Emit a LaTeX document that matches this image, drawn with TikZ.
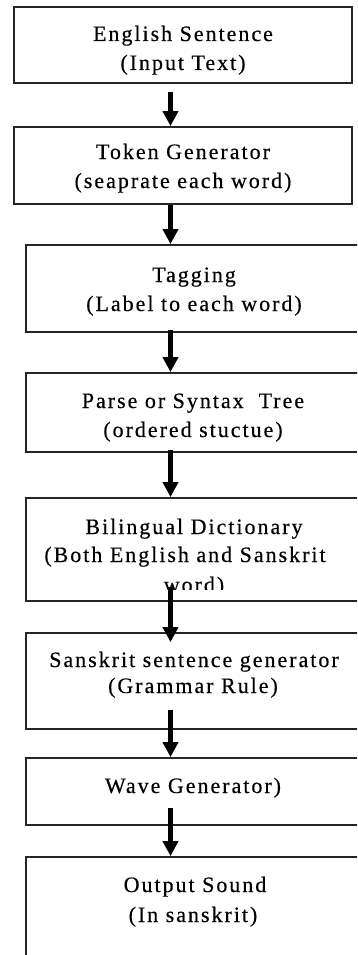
\documentclass[tikz,border=0pt]{standalone}
\usepackage{fontspec}
\setmainfont{Liberation Serif}[LetterSpace=9,FakeBold=0.4]
\usetikzlibrary{arrows.meta,calc}
\begin{document}
\begin{tikzpicture}[x=1pt,y=-1pt,
  box/.style={draw=black!85,line width=1.8pt,inner sep=0pt,minimum width=#1},
  box/.default=338pt,
  txt/.style={anchor=base,inner sep=0pt,font=\fontsize{22}{28}\selectfont},
  arr/.style={line width=4.5pt,-{Triangle[width=15pt,length=15pt]}}]
\useasboundingbox (0,0) rectangle (357,955);
\clip (0,0) rectangle (357,955);
% boxes
\node[box,minimum height=76pt] (b1) at (183,45) {};
\node[box,minimum height=77pt] (b2) at (183,165.5) {};
\node[box=336pt,minimum height=87pt] (b3) at (194,288.5) {};
\node[box=336pt,minimum height=79pt] (b4) at (194,412.5) {};
\node[box=336pt,minimum height=103pt] (b5) at (194,549.5) {};
\node[box=336pt,minimum height=96pt] (b6) at (194,681) {};
\node[box=336pt,minimum height=67pt] (b7) at (194,791.5) {};
\node[box=336pt,minimum height=128pt] (b8) at (194,921) {};
% texts
\node[txt] (t1a) at (183,41) {English Sentence};
\node[txt] (t1b) at (183,70) {(Input Text)};
\node[txt] (t2a) at (183,159) {Token Generator};
\node[txt] (t2b) at (183,188) {(seaprate each word)};
\node[txt] (t3a) at (194,282) {Tagging};
\node[txt] (t3b) at (194,311) {(Label to each word)};
\node[txt] (t4a) at (193,408) {Parse or Syntax~ Tree};
\node[txt] (t4b) at (193,437) {(ordered stuctue)};
\node[txt] (t5a) at (194,534) {Bilingual Dictionary};
\node[txt] (t5b) at (185,562) {(Both English and Sanskrit};
\begin{scope}
\clip (0,500) rectangle (357,589);
\node[txt] (t5c) at (194,592) {word)};
\end{scope}
\node[txt] (t6a) at (194,667) {Sanskrit sentence generator};
\node[txt] (t6b) at (193,693) {(Grammar Rule)};
\node[txt] (t7a) at (193,793) {Wave Generator)};
\node[txt] (t8a) at (195,892) {Output Sound};
\node[txt] (t8b) at (193,922) {(In sanskrit)};
% arrows
\coordinate (s1) at (170.5,92);
\coordinate (s2) at (170.5,205);
\coordinate (s3) at (170.5,330);
\coordinate (s4) at (170.5,450);
\coordinate (s5) at (170.5,587);
\coordinate (s6) at (170.5,710);
\coordinate (s7) at (170.5,808);
\draw[arr] (s1) -- (s1 |- b2.north);
\draw[arr] (s2) -- (s2 |- b3.north);
\draw[arr] (s3) -- (s3 |- b4.north);
\draw[arr] (s4) -- (s4 |- b5.north);
\draw[arr] (s5) -- ($(s5 |- b6.north)+(0,10)$);
\draw[arr] (s6) -- (s6 |- b7.north);
\draw[arr] (s7) -- (s7 |- b8.north);
\end{tikzpicture}
\end{document}
